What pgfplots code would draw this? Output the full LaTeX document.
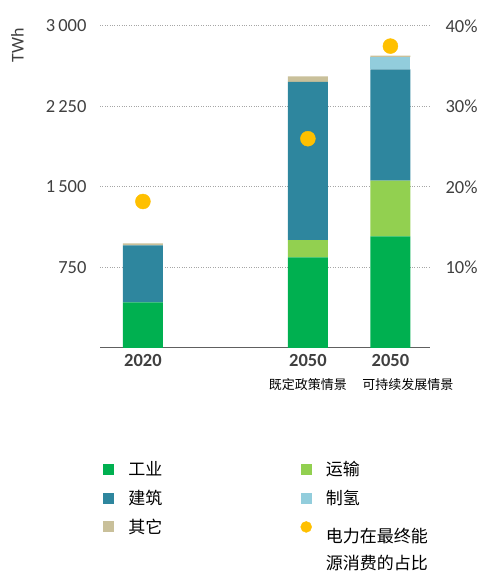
\documentclass[border=0pt]{standalone}
\usepackage{pgfplots}
\pgfplotsset{compat=1.18}
\usepackage{fontspec}
\setmainfont{Carlito}
\newfontfamily\cjk{Noto Sans CJK SC}
\definecolor{ind}{HTML}{00B050}
\definecolor{tra}{HTML}{92D050}
\definecolor{bld}{HTML}{2E869E}
\definecolor{hyd}{HTML}{92CDDC}
\definecolor{oth}{HTML}{C9C09A}
\definecolor{dotc}{HTML}{FFC000}
\definecolor{tickc}{HTML}{404040}
\pgfplotsset{sq/.style={legend image code/.code={\fill[##1] (0pt,-5.5pt) rectangle (11pt,5.5pt);}}}
\begin{document}
\begin{tikzpicture}[x=1pt,y=1pt]
\path[use as bounding box] (0,0) rectangle (501,585);
\begin{axis}[
  at={(100pt,237pt)}, anchor=south west,
  scale only axis, width=330pt, height=322pt,
  ybar stacked, bar width=40pt,
  xmin=-0.52, xmax=3.48, ymin=0, ymax=3000,
  axis x line*=bottom, axis y line*=left,
  x axis line style={draw=gray!75!black, line width=1pt, -},
  y axis line style={draw=none},
  major tick length=0pt,
  xtick={0,2,3},
  xticklabels={{\bfseries 2020},
    {\bfseries 2050\\[1pt]\cjk\fontsize{13}{15}\selectfont\color{black}既定政策情景},
    {\bfseries 2050\\[1pt]\cjk\fontsize{13}{15}\selectfont\color{black}\hspace*{35pt}可持续发展情景}},
  xticklabel style={align=center, anchor=north, text=tickc, font=\fontsize{18.5}{22}\selectfont, yshift=-3pt},
  ytick={750,1500,2250,3000},
  yticklabels={750,1\,500,2\,250,3\,000},
  yticklabel style={text=tickc, font=\fontsize{18.5}{22}\selectfont, xshift=-10pt},
  ymajorgrids,
  major grid style={dotted, gray!70, line width=1pt},
  ylabel={TWh},
  ylabel style={at={(rel axis cs:-0.25,0.94)}, anchor=center, text=tickc, font=\fontsize{18}{22}\selectfont},
  legend columns=2,
  legend cell align=left,
  legend style={at={(rel axis cs:0.01,-0.345)}, anchor=north west, draw=none, fill=none,
    font=\cjk\fontsize{17}{27}\selectfont, row sep=9pt, inner sep=0pt,
    /tikz/every odd column/.append style={column sep=12pt},
    /tikz/every even column/.append style={column sep=136pt}},
]
\addplot[fill=ind, draw=none, sq] coordinates {(0,425) (2,845) (3,1040)};
\addlegendentry{工业}
\addplot[fill=tra, draw=none, sq] coordinates {(0,0) (2,160) (3,520)};
\addlegendentry{运输}
\addplot[fill=bld, draw=none, sq] coordinates {(0,530) (2,1475) (3,1035)};
\addlegendentry{建筑}
\addplot[fill=hyd, draw=none, sq] coordinates {(0,0) (2,0) (3,115)};
\addlegendentry{制氢}
\addplot[fill=oth, draw=none, sq] coordinates {(0,20) (2,50) (3,15)};
\addlegendentry{其它}
\addlegendimage{legend image code/.code={\fill[dotc] (5.5pt,0pt) circle (5.5pt);}}
\addlegendentry{\raisebox{-16pt}{\smash{\begin{tabular}[t]{@{}l@{}}电力在最终能\\源消费的占比\end{tabular}}}}
\end{axis}
\begin{axis}[
  at={(100pt,237pt)}, anchor=south west,
  scale only axis, width=330pt, height=322pt,
  xmin=-0.52, xmax=3.48, ymin=0, ymax=40,
  axis x line=none, axis y line*=right,
  y axis line style={draw=none},
  major tick length=0pt,
  ytick={10,20,30,40},
  yticklabels={10\%,20\%,30\%,40\%},
  yticklabel style={text=tickc, font=\fontsize{18.5}{22}\selectfont, xshift=12pt},
]
\addplot[only marks, mark=*, mark size=7.5pt, color=dotc] coordinates {(0,18.2) (2,26.0) (3,37.5)};
\end{axis}
\end{tikzpicture}
\end{document}
